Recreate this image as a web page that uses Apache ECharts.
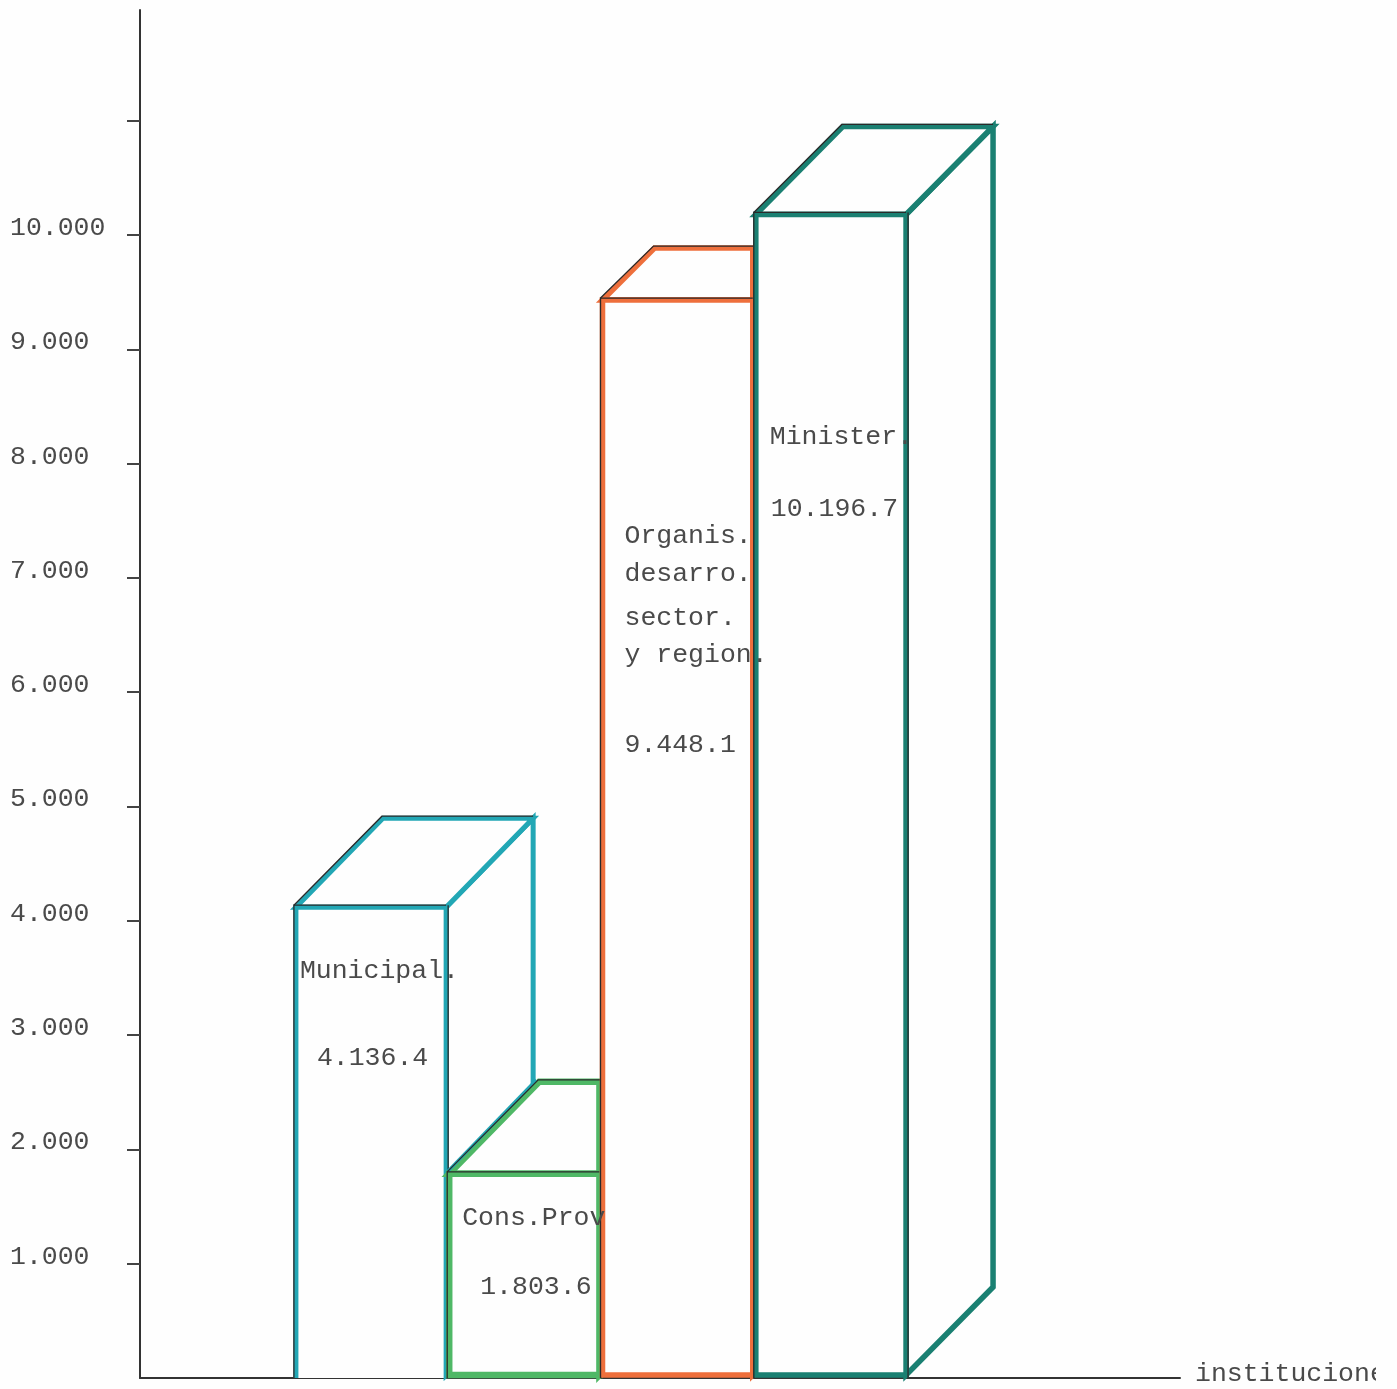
<!DOCTYPE html>
<html><head><meta charset="utf-8">
<style>html,body{margin:0;padding:0;background:#fefefe}#c{width:1397px;height:1389px}</style>
<script src="https://cdn.jsdelivr.net/npm/echarts@6/dist/echarts.min.js"></script>
</head><body><div id="c"></div>
<script>
const categories = ['Municipal', 'Cons.Prov', 'Organismos', 'Ministerios'];
const values = [4136.4, 1803.6, 9448.1, 10196.7];
const valueLabels = ['4.136.4', '1.803.6', '9.448.1', '10.196.7'];
const nameLines = [['Municipal.'], ['Cons.Prov'], ['Organis.', 'desarro.', 'sector.', 'y region.'], ['Minister.']];
const yTicks = [1000, 2000, 3000, 4000, 5000, 6000, 7000, 8000, 9000, 10000, 11000];
const yLabelValues = [1000, 2000, 3000, 4000, 5000, 6000, 7000, 8000, 9000, 10000];
const yTickLabels = ['1.000', '2.000', '3.000', '4.000', '5.000', '6.000', '7.000', '8.000', '9.000', '10.000'];
const xAxisName = 'instituciones';

// appearance per bar, kept apart from the data
const barStyle = [
  { color: '#22a7b5', width: 5, depth: [87, 89], base: false, back: false, textX: 4, nameY: [66], valueX: 21, valueY: 153 },
  { color: '#4fb866', width: 6.5, depth: [90, 92], base: true, back: true, tint: '#22a7b5', textX: 13, nameY: [46], valueX: 31, valueY: 115 },
  { color: '#ee6f3c', width: 5.5, depth: [52, 52], base: true, back: true, textX: 22, nameY: [238, 276, 320, 357], valueX: 22, valueY: 447 },
  { color: '#1a8072', width: 5.5, depth: [87, 88], base: true, back: false, textX: 14, nameY: [225], valueX: 15, valueY: 297 }
];
const pencil = '#2a2a2a';
const typeFont = '26.5px "Liberation Mono", monospace';
const inkColor = '#4a4a4a';
const paper = '#fefefe';

function barFrame(api) {
  const i = api.value(0), v = api.value(1);
  const lt = api.coord([i - 0.49, v]);
  const rb = api.coord([i + 0.49, 0]);
  return { i, l: lt[0], t: lt[1], r: rb[0], g: rb[1] };
}
function renderBar(params, api) {
  const { i, l, t, r, g } = barFrame(api);
  const s = barStyle[i];
  const dx = s.depth[0], dy = s.depth[1];
  const b = g - 3, c = t + 2;
  const line = { stroke: s.color, lineWidth: s.width, lineJoin: 'miter', fill: paper };
  const open = { stroke: s.color, lineWidth: s.width, fill: null };
  const thin = { stroke: pencil, lineWidth: 1.3, fill: null };
  const ch = [];
  ch.push({ type: 'polygon', shape: { points: [[r, c], [r + dx, c - dy], [r + dx, b - dy], [r, b]] }, style: line });
  ch.push({ type: 'polygon', shape: { points: [[l, c], [l + dx, c - dy], [r + dx, c - dy], [r, c]] }, style: line });
  if (s.base) {
    ch.push({ type: 'polygon', shape: { points: [[l, c], [r, c], [r, b], [l, b]] }, style: line });
  } else {
    ch.push({ type: 'polygon', shape: { points: [[l, c], [r, c], [r, g], [l, g]] }, style: { fill: paper, stroke: null } });
    ch.push({ type: 'polyline', shape: { points: [[l, g], [l, c], [r, c], [r, g]] }, style: { stroke: s.color, lineWidth: s.width, fill: null, lineJoin: 'miter' } });
  }
  if (s.back) {
    ch.push({ type: 'polyline', shape: { points: [[r, c - dy], [r, c]] }, style: open });
  }
  if (s.tint) {
    ch.push({ type: 'polyline', shape: { points: [[l - 1, c - 3], [l + dx - 3, c - dy - 2]] }, style: { stroke: s.tint, lineWidth: 3, fill: null } });
  }
  ch.push({ type: 'polyline', shape: { points: [[l - 2, g], [l - 2, t], [r, t]] }, style: thin });
  ch.push({ type: 'polyline', shape: { points: [[l - 2, t], [l + dx - 1, t - dy], [r + dx, t - dy]] }, style: thin });
  ch.push({ type: 'polyline', shape: { points: [[r + 2, t], [r + 2, g]] }, style: thin });
  return { type: 'group', children: ch };
}
function renderText(params, api) {
  const { i, l, t } = barFrame(api);
  const s = barStyle[i];
  const ch = nameLines[i].map((txt, k) => ({
    type: 'text',
    style: { text: txt, x: l + s.textX, y: t + s.nameY[k], font: typeFont, fill: inkColor, verticalAlign: 'middle', align: 'left' }
  }));
  ch.push({
    type: 'text',
    style: { text: valueLabels[i], x: l + s.valueX, y: t + s.valueY, font: typeFont, fill: inkColor, verticalAlign: 'middle', align: 'left' }
  });
  return { type: 'group', children: ch };
}

const chart = echarts.init(document.getElementById('c'), null, { renderer: 'canvas' });
const barData = categories.map((c, i) => ({ name: c, value: [i, values[i]] }));
chart.setOption({
  animation: false,
  backgroundColor: paper,
  grid: { left: 140, right: 217, top: 10, bottom: 11, containLabel: false, outerBoundsMode: 'none' },
  xAxis: {
    type: 'value', min: -1.507, max: 5.277,
    axisLine: { show: true, onZero: false, lineStyle: { color: '#333', width: 2 } },
    axisTick: { show: false }, axisLabel: { show: false }, splitLine: { show: false },
    name: xAxisName, nameLocation: 'end', nameGap: 15,
    nameTextStyle: { fontFamily: '"Liberation Mono", monospace', fontSize: 26.5, color: inkColor, verticalAlign: 'bottom', lineHeight: 8 }
  },
  yAxis: {
    type: 'value', min: 0, max: 11968, interval: 1000,
    axisLine: { show: true, onZero: false, lineStyle: { color: '#333', width: 2 } },
    axisTick: { show: true, length: 13, customValues: yTicks, lineStyle: { color: '#444', width: 2 } },
    axisLabel: {
      show: true, align: 'left', margin: 130, customValues: yLabelValues,
      formatter: v => yTickLabels[yLabelValues.indexOf(v)] || '',
      fontFamily: '"Liberation Mono", monospace', fontSize: 26.5, color: inkColor,
      verticalAlign: 'bottom', lineHeight: 14
    },
    splitLine: { show: false }
  },
  series: [
    { type: 'custom', name: 'bars', coordinateSystem: 'cartesian2d', clip: false, z: 1, renderItem: renderBar, data: barData, encode: { x: 0, y: 1 } },
    { type: 'custom', name: 'labels', coordinateSystem: 'cartesian2d', clip: false, z: 4, renderItem: renderText, data: barData, encode: { x: 0, y: 1 } }
  ],
  graphic: [
    { type: 'rect', left: 1376, top: 1340, shape: { width: 21, height: 49 }, style: { fill: paper }, z: 100 }
  ]
});
</script></body></html>
